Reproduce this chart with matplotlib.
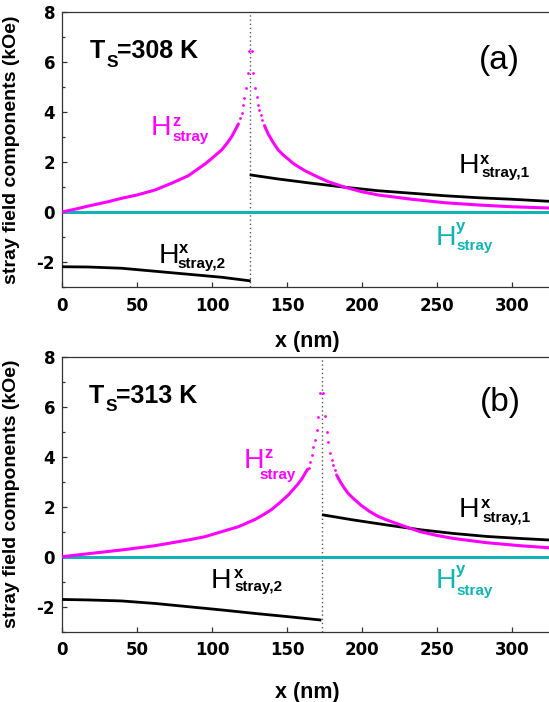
import matplotlib
matplotlib.use("Agg")
import matplotlib.pyplot as plt
from matplotlib.ticker import MultipleLocator

plt.rcParams['font.family'] = ['Liberation Sans', 'DejaVu Sans']
plt.rcParams['axes.unicode_minus'] = False

# ---------------- data (panel a, Ts = 308 K) ----------------
wall_a = 125.3
hz_a_left_x = [0, 10, 17.6, 30, 39.8, 50, 62, 73, 84.2, 95.3, 100, 106.4, 110, 113, 115.5, 117.6]
hz_a_left_y = [0, 0.13, 0.24, 0.40, 0.55, 0.68, 0.88, 1.15, 1.45, 1.92, 2.15, 2.48, 2.75, 3.00, 3.28, 3.52]
hz_a_peak_x = [118.9, 119.8, 120.9, 121.6, 122.4, 123.8, 124.5, 126.4, 127.3, 128.9, 130.2, 130.9, 131.6, 132.4, 133.6, 134.7]
hz_a_peak_y = [3.75, 3.97, 4.28, 4.57, 4.97, 5.55, 6.44, 6.44, 5.55, 4.97, 4.59, 4.28, 4.08, 3.88, 3.68, 3.48]
hz_a_right_x = [135.3, 137.5, 139.8, 142, 144.2, 147.5, 150.9, 154, 157.6, 162, 166.4, 172, 177.6,
                188.7, 199.8, 210.9, 233.1, 255.3, 277.6, 299.8, 324.2, 330]
hz_a_right_y = [3.41, 3.12, 2.88, 2.67, 2.48, 2.28, 2.11, 1.95, 1.81, 1.65, 1.52, 1.36, 1.21,
                0.99, 0.81, 0.68, 0.51, 0.37, 0.28, 0.21, 0.16, 0.15]
hx1_a_x = [126, 144.2, 166.4, 188.7, 210.9, 233.1, 255.3, 277.6, 299.8, 324.2, 330]
hx1_a_y = [1.48, 1.32, 1.15, 0.99, 0.85, 0.75, 0.65, 0.57, 0.51, 0.43, 0.42]
hx2_a_x = [0, 17.6, 39.8, 62, 84.2, 106.4, 124.9]
hx2_a_y = [-2.19, -2.20, -2.25, -2.37, -2.49, -2.61, -2.75]

# ---------------- data (panel b, Ts = 313 K) ----------------
wall_b = 173.1
hz_b_left_x = [0, 17.6, 39.8, 62, 84.2, 95.3, 106.4, 117.6, 128.7, 134, 139.8, 145, 150.9, 154, 157.6, 160, 162, 163.8]
hz_b_left_y = [0, 0.12, 0.27, 0.44, 0.67, 0.80, 1.00, 1.20, 1.49, 1.67, 1.89, 2.15, 2.47, 2.68, 2.93, 3.12, 3.33, 3.50]
hz_b_peak_x = [164.7, 165.5, 166.4, 167.6, 168.7, 169.8, 170.9, 172.0,
               174.2, 175.3, 176.4, 177.6, 178.7, 179.8, 180.9, 182.0]
hz_b_peak_y = [3.53, 3.80, 4.07, 4.40, 4.67, 5.07, 5.60, 6.53,
               6.53, 5.63, 5.00, 4.60, 4.13, 3.87, 3.67, 3.47]
hz_b_right_x = [183.1, 185.3, 187.6, 190.5, 194.2, 199.5, 205.3, 210.5, 216.4, 227.6, 238.7,
                250, 260.9, 283.1, 305.3, 324.2, 330]
hz_b_right_y = [3.27, 3.02, 2.80, 2.55, 2.33, 2.05, 1.80, 1.62, 1.47, 1.23, 1.00,
                0.85, 0.73, 0.56, 0.44, 0.36, 0.34]
hx1_b_x = [174.2, 194.2, 216.4, 238.7, 260.9, 283.1, 305.3, 324.2, 330]
hx1_b_y = [1.67, 1.47, 1.27, 1.08, 0.93, 0.81, 0.73, 0.67, 0.65]
hx2_b_x = [0, 17.6, 39.8, 62, 84.2, 106.4, 128.7, 150.9, 172]
hx2_b_y = [-1.71, -1.73, -1.77, -1.87, -2.00, -2.13, -2.27, -2.40, -2.53]

hy_x = [0, 330]
hy_y = [0, 0]

x_ticks = [0, 50, 100, 150, 200, 250, 300]
y_ticks = [-2, 0, 2, 4, 6, 8]

MAG = '#ff00ff'
CYA = '#12b3b3'
W, H = 549, 702

fig = plt.figure(figsize=(W / 100, H / 100), dpi=100)


def make_axes(top_px):
    left = 62
    width = 495
    height = 275
    return fig.add_axes([left / W, 1 - (top_px + height) / H, width / W, height / H])


def ftext(x, y, s, **kw):
    fig.text(x / W, 1 - y / H, s, **kw)


def hlabel(color, hx, hy, sup, sx, sy, sub, bx, by):
    ftext(hx, hy, 'H', color=color, fontsize=20.5, va='baseline', ha='left')
    ftext(sx, sy, sup, color=color, fontsize=12, fontweight='bold', va='baseline', ha='left')
    ftext(bx, by, sub, color=color, fontsize=11, fontweight='bold', va='baseline', ha='left')


def style(ax, label_y):
    ax.set_xlim(0, 330)
    ax.set_ylim(-3, 8)
    ax.set_xticks(x_ticks)
    ax.set_yticks(y_ticks)
    ax.yaxis.set_minor_locator(MultipleLocator(1))
    ax.tick_params(axis='both', which='both', direction='in', top=False, right=False,
                   width=0.9, color='#333333')
    ax.tick_params(axis='both', which='major', length=3.5)
    ax.tick_params(axis='y', which='minor', length=2.5)
    ax.tick_params(axis='y', pad=5)
    ax.tick_params(axis='x', pad=7)
    for lab in ax.get_xticklabels() + ax.get_yticklabels():
        lab.set_fontweight('bold')
        lab.set_fontfamily('DejaVu Sans')
        lab.set_fontsize(12)
    for sp in ax.spines.values():
        sp.set_linewidth(0.9)
        sp.set_color('#333333')
    ax.set_ylabel('stray field components (kOe)', fontsize=14, fontweight='bold')
    ax.yaxis.set_label_coords(-42 / 495, 0.5)
    ax.set_xlabel('x (nm)', fontsize=15.5, fontweight='bold')
    ax.xaxis.label.set_va('center')
    ax.xaxis.set_label_coords(245 / 495, label_y)


def draw(ax, wall, lx, ly, px, py, rx, ry, x1x, x1y, x2x, x2y):
    ax.axvline(wall, color='#555555', lw=1.0, ls=(0, (1, 2)), zorder=1)
    ax.plot(hy_x, hy_y, color=CYA, lw=2.2, zorder=2, solid_capstyle='butt')
    ax.plot(x2x, x2y, color='black', lw=2.0, zorder=3)
    ax.plot(x1x, x1y, color='black', lw=2.0, zorder=3)
    ax.plot(lx, ly, color=MAG, lw=2.2, zorder=4, solid_capstyle='round')
    ax.plot(rx, ry, color=MAG, lw=2.2, zorder=4, solid_capstyle='round')
    ax.plot(px, py, ls='none', marker='o', ms=2.0, mfc=MAG, mec='none', zorder=4)


# ---------------- panel a ----------------
ax1 = make_axes(12)
draw(ax1, wall_a, hz_a_left_x, hz_a_left_y, hz_a_peak_x, hz_a_peak_y,
     hz_a_right_x, hz_a_right_y, hx1_a_x, hx1_a_y, hx2_a_x, hx2_a_y)
style(ax1, -55 / 275)

# ---------------- panel b ----------------
ax2 = make_axes(356.7)
draw(ax2, wall_b, hz_b_left_x, hz_b_left_y, hz_b_peak_x, hz_b_peak_y,
     hz_b_right_x, hz_b_right_y, hx1_b_x, hx1_b_y, hx2_b_x, hx2_b_y)
style(ax2, -61 / 275)

# ---------------- annotations ----------------
ftext(90, 58.3, 'T', fontsize=18, fontweight='bold', va='baseline', ha='left')
ftext(107, 66.7, 'S', fontsize=12.5, fontweight='bold', va='baseline', ha='left')
ftext(117, 58.3, '=308 K', fontsize=18, fontweight='bold', va='baseline', ha='left')
ftext(499, 61, '(a)', fontsize=24, va='center', ha='center')

ftext(88.5, 403, 'T', fontsize=18, fontweight='bold', va='baseline', ha='left')
ftext(105.5, 411.4, 'S', fontsize=12.5, fontweight='bold', va='baseline', ha='left')
ftext(115.5, 403, '=313 K', fontsize=18, fontweight='bold', va='baseline', ha='left')
ftext(500, 402, '(b)', fontsize=24, va='center', ha='center')

# panel a labels
hlabel(MAG, 151, 135, 'z', 172.5, 126.5, 'stray', 172.5, 141)
hlabel('black', 459, 173.3, 'x', 480, 164.5, 'stray,1', 481.5, 177.5)
hlabel(CYA, 435.5, 245, 'y', 456, 231.5, 'stray', 456, 250)
hlabel('black', 158.5, 263.3, 'x', 179, 253, 'stray,2', 177.5, 268)

# panel b labels
hlabel(MAG, 243.5, 468.3, 'z', 264.5, 457.5, 'stray', 259.5, 478.5)
hlabel('black', 458.5, 516.7, 'x', 481, 508, 'stray,1', 482, 522)
hlabel(CYA, 435.5, 588, 'y', 456, 574, 'stray', 456.5, 594.5)
hlabel('black', 211, 588.3, 'x', 233.5, 578, 'stray,2', 234, 591)

fig.savefig('out.png', dpi=100)
